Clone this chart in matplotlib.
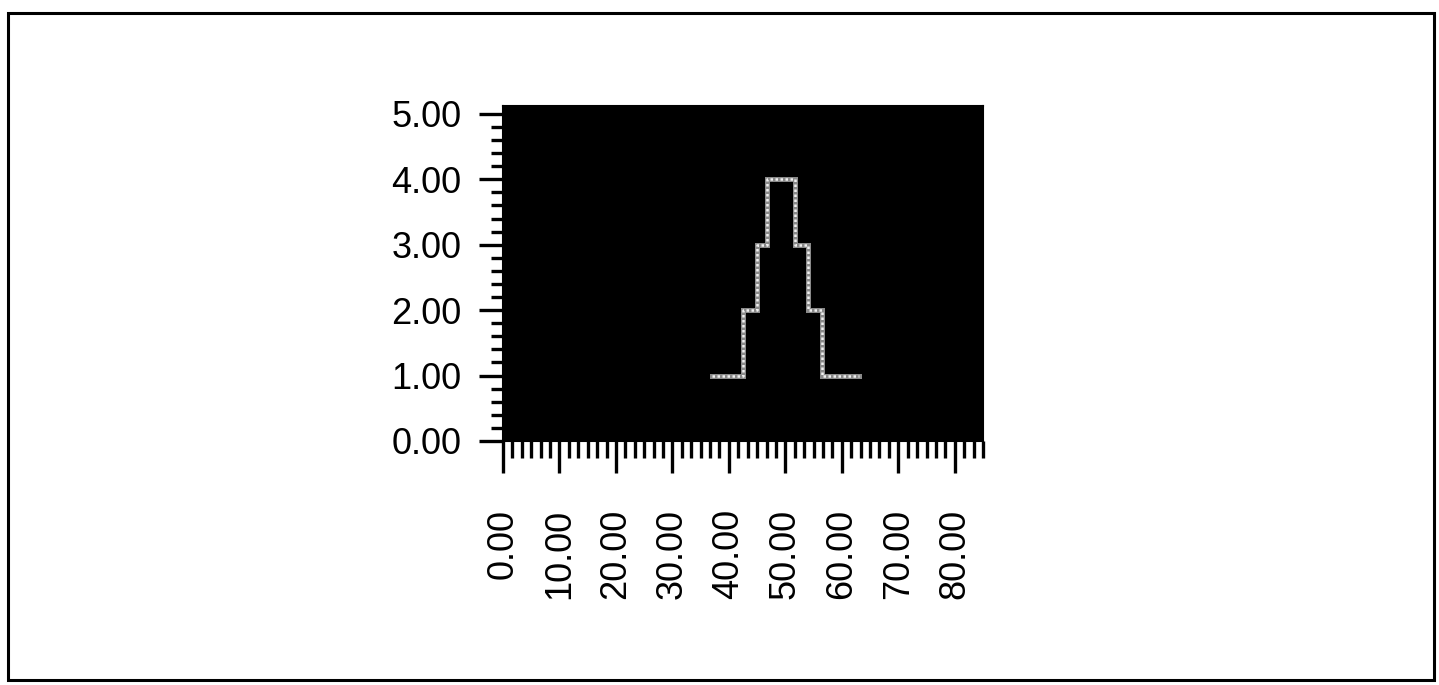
import matplotlib
matplotlib.use("Agg")
import matplotlib.pyplot as plt
import matplotlib.ticker as ticker
from matplotlib.patches import Rectangle

# step profile
step_x = [37.0, 42.5, 45.0, 46.7, 51.7, 54.0, 56.5, 63.0]
step_y = [1.0, 2.0, 3.0, 4.0, 3.0, 2.0, 1.0, 1.0]

x_ticks = [0, 10, 20, 30, 40, 50, 60, 70, 80]
y_ticks = [0, 1, 2, 3, 4, 5]

FONT = "Liberation Sans"

fig = plt.figure(figsize=(14.39, 6.85), dpi=100, facecolor="white")

# outer frame round the whole figure
fig.patches.append(Rectangle((8 / 1439, 5 / 685), 1426 / 1439, 667 / 685,
                             transform=fig.transFigure, fill=False,
                             edgecolor="black", linewidth=2.2))

ax = fig.add_axes([503 / 1439, 244 / 685, 480 / 1439, 335 / 685])
ax.set_facecolor("black")

# gray base + light dotted overlay to mimic the checkered line
ax.plot(step_x, step_y, drawstyle="steps-post", color="#8a8a8a",
        linewidth=3.6, solid_joinstyle="miter")
ax.plot(step_x, step_y, drawstyle="steps-post", color="#f0f0f0",
        linewidth=1.8, linestyle=(0, (1, 1)))

ax.set_xlim(0, 85)
ax.set_ylim(0, 5.12)

ax.set_xticks(x_ticks)
ax.set_xticklabels([f"{v:.2f}" for v in x_ticks], rotation=90,
                   fontsize=26, family=FONT)
ax.set_yticks(y_ticks)
ax.set_yticklabels([f"{v:.2f}" for v in y_ticks], fontsize=26, family=FONT)
ax.xaxis.set_minor_locator(ticker.MultipleLocator(10 / 6))
ax.yaxis.set_minor_locator(ticker.MultipleLocator(0.2))

ax.tick_params(axis="y", which="major", direction="out", length=17,
               width=2.4, pad=13, colors="black")
ax.tick_params(axis="y", which="minor", direction="out", length=8.5, width=2.4)
ax.tick_params(axis="x", which="major", direction="out", length=23,
               width=2.4, pad=26, colors="black")
ax.tick_params(axis="x", which="minor", direction="out", length=12, width=2.4)

for spine in ax.spines.values():
    spine.set_edgecolor("black")
    spine.set_linewidth(1.5)

fig.savefig("out.png", dpi=100, facecolor="white")
